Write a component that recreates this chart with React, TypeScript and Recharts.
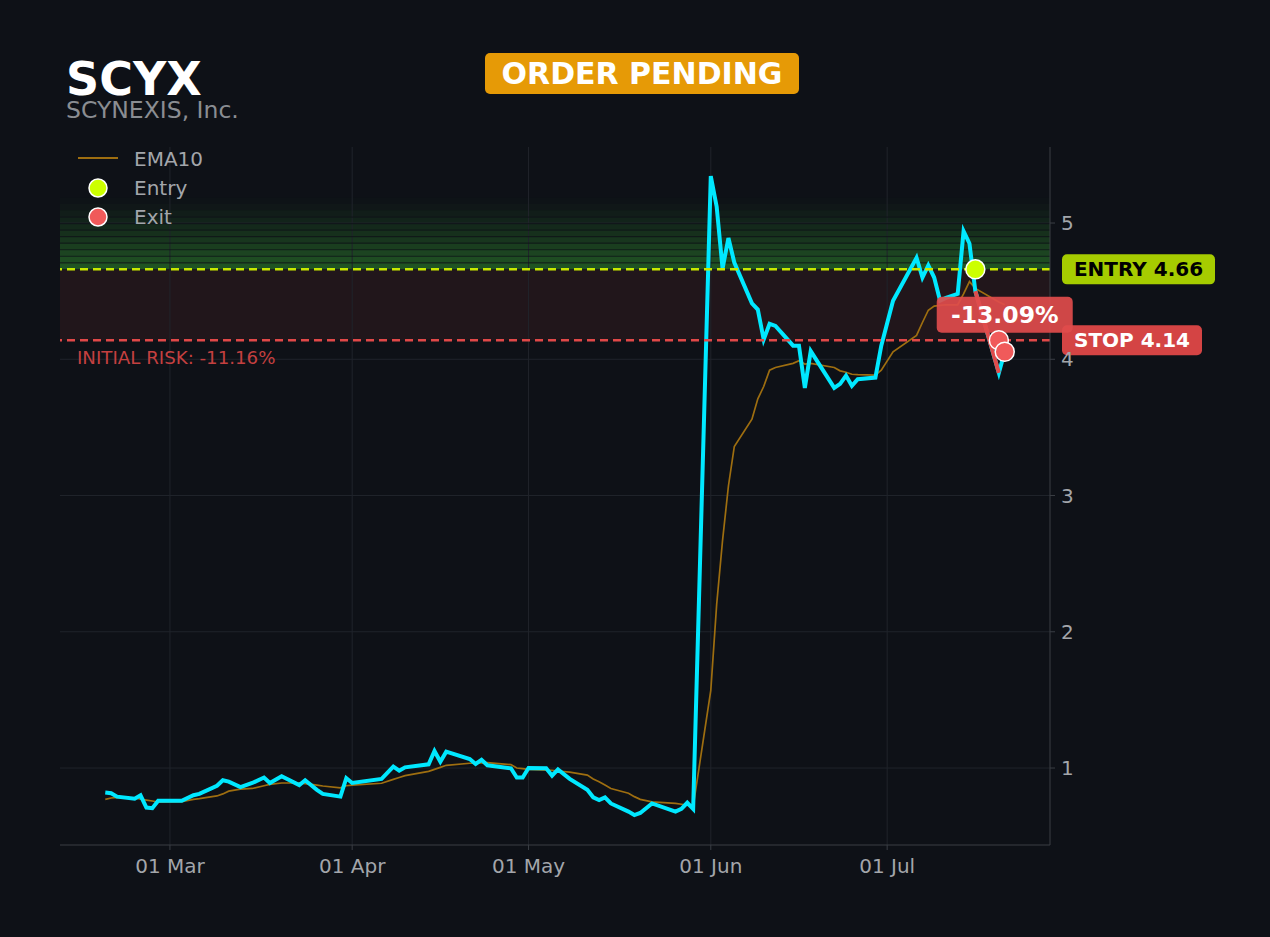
import React from 'react';
import {
  ComposedChart,
  Line,
  ReferenceArea,
  ReferenceDot,
  ReferenceLine,
  XAxis,
  YAxis,
} from 'recharts';

// Daily closes
const DATES = [
  '2023-02-18', '2023-02-19', '2023-02-20', '2023-02-23', '2023-02-24', '2023-02-25',
  '2023-02-26', '2023-02-27', '2023-03-03', '2023-03-05', '2023-03-06', '2023-03-09',
  '2023-03-10', '2023-03-11', '2023-03-13', '2023-03-15', '2023-03-17', '2023-03-18',
  '2023-03-20', '2023-03-23', '2023-03-24', '2023-03-26', '2023-03-27', '2023-03-30',
  '2023-03-31', '2023-04-01', '2023-04-06', '2023-04-08', '2023-04-09', '2023-04-10',
  '2023-04-14', '2023-04-15', '2023-04-16', '2023-04-17', '2023-04-21', '2023-04-22',
  '2023-04-23', '2023-04-24', '2023-04-28', '2023-04-29', '2023-04-30', '2023-05-01',
  '2023-05-04', '2023-05-05', '2023-05-06', '2023-05-08', '2023-05-11', '2023-05-12',
  '2023-05-13', '2023-05-14', '2023-05-15', '2023-05-18', '2023-05-19', '2023-05-20',
  '2023-05-22', '2023-05-26', '2023-05-27', '2023-05-28', '2023-05-29', '2023-06-01',
  '2023-06-02', '2023-06-03', '2023-06-04', '2023-06-05', '2023-06-08', '2023-06-09',
  '2023-06-10', '2023-06-11', '2023-06-12', '2023-06-15', '2023-06-16', '2023-06-17',
  '2023-06-18', '2023-06-22', '2023-06-23', '2023-06-24', '2023-06-25', '2023-06-26',
  '2023-06-29', '2023-06-30', '2023-07-02', '2023-07-06', '2023-07-07', '2023-07-08',
  '2023-07-09', '2023-07-10', '2023-07-11', '2023-07-13', '2023-07-14', '2023-07-15',
  '2023-07-16', '2023-07-20', '2023-07-21',
];

const CLOSE = [
  0.82, 0.815, 0.79, 0.775, 0.8, 0.71,
  0.705, 0.76, 0.76, 0.8, 0.81, 0.87,
  0.91, 0.9, 0.86, 0.89, 0.93, 0.89,
  0.94, 0.875, 0.91, 0.84, 0.81, 0.79,
  0.925, 0.89, 0.92, 1.01, 0.98, 1.005,
  1.027, 1.125, 1.046, 1.12, 1.066, 1.03,
  1.06, 1.02, 0.998, 0.93, 0.93, 1.0,
  0.998, 0.944, 0.99, 0.92, 0.84, 0.785,
  0.765, 0.785, 0.74, 0.68, 0.655, 0.67,
  0.74, 0.68, 0.7, 0.745, 0.7, 5.345,
  5.12, 4.666, 4.89, 4.71, 4.41, 4.365,
  4.145, 4.26, 4.245, 4.1, 4.1, 3.79,
  4.06, 3.79, 3.82, 3.88, 3.805, 3.854,
  3.866, 4.1, 4.43, 4.745, 4.6, 4.69,
  4.6, 4.43, 4.45, 4.48, 4.94, 4.85,
  4.5, 3.9, 4.055,
];

const EMA10 = [
  0.77, 0.78, 0.785, 0.78, 0.772, 0.765,
  0.758, 0.75, 0.753, 0.77, 0.775, 0.795,
  0.81, 0.83, 0.845, 0.85, 0.87, 0.88,
  0.89, 0.89, 0.885, 0.875, 0.868, 0.855,
  0.87, 0.875, 0.888, 0.917, 0.93, 0.944,
  0.975, 0.99, 1.005, 1.02, 1.035, 1.036,
  1.038, 1.04, 1.025, 1.0, 0.995, 0.99,
  0.985, 0.982, 0.978, 0.97, 0.948, 0.92,
  0.9, 0.875, 0.85, 0.815, 0.79, 0.77,
  0.752, 0.74, 0.734, 0.728, 0.716, 1.57,
  2.2, 2.67, 3.07, 3.36, 3.56, 3.71,
  3.8, 3.92, 3.94, 3.97, 3.99, 3.965,
  3.97, 3.94, 3.915, 3.905, 3.89, 3.887,
  3.883, 3.92, 4.055, 4.175, 4.27, 4.36,
  4.39, 4.395, 4.4, 4.4, 4.48, 4.57,
  4.52, 4.42, 4.4,
];

// Trade segment drawn in red, from entry to exit
const TRADE_DATES = ['2023-07-16', '2023-07-20'];
const TRADE_CLOSE = [4.5, 3.9];

const ENTRY_DATE = '2023-07-16';
const ENTRY_PRICE = 4.66;
const STOP_PRICE = 4.14;
const EXIT_DATES = ['2023-07-20', '2023-07-21'];
const EXIT_PRICES = [4.14, 4.055];
const TRADE_RESULT = '-13.09%';
const INITIAL_RISK = 'INITIAL RISK: -11.16%';

const TICK_DATES = ['2023-03-01', '2023-04-01', '2023-05-01', '2023-06-01', '2023-07-01'];
const TICK_LABELS = ['01 Mar', '01 Apr', '01 May', '01 Jun', '01 Jul'];
const Y_TICKS = [1, 2, 3, 4, 5];

const BG = '#0e1117';
const GRID = '#20242b';
const AXIS = '#3a3e45';
const TEXT = '#a3a6ab';
const FONT = '"DejaVu Sans", Verdana, sans-serif';
const DAY = 86400000;
const ts = (d: string) => Date.parse(d + 'T00:00:00Z');
const TICK_TS = TICK_DATES.map(ts);

const X_DOMAIN = [ts('2023-03-01') - 18.7 * DAY, ts('2023-03-01') + 149.7 * DAY];
const Y_DOMAIN = [0.435, 5.558];

const tradeByDate: Record<string, number> = {};
TRADE_DATES.forEach((d, i) => (tradeByDate[d] = TRADE_CLOSE[i]));

const data = DATES.map((d, i) => ({
  t: ts(d),
  close: CLOSE[i],
  ema: EMA10[i],
  trade: tradeByDate[d] ?? null,
}));

// stacked green bands above the entry line (fading upward)
const BAND_STEP = 0.048;
const BAND_COUNT = 11;
const BANDS = Array.from({ length: BAND_COUNT }, (_, i) => ({
  y1: ENTRY_PRICE + i * BAND_STEP,
  y2: ENTRY_PRICE + (i + 1) * BAND_STEP,
  op: 0.62 * Math.pow(1 - i / BAND_COUNT, 1.3),
}));

const SideTag = ({ viewBox, text, bg, color, width }: any) => {
  if (!viewBox) return null;
  const x = viewBox.x + viewBox.width + 12;
  const y = viewBox.y;
  return (
    <g>
      <rect x={x} y={y - 15} width={width} height={30} rx={5} fill={bg} />
      <text
        x={x + width / 2}
        y={y + 7}
        textAnchor="middle"
        fontFamily={FONT}
        fontWeight="bold"
        fontSize={20}
        fill={color}
      >
        {text}
      </text>
    </g>
  );
};

const ResultBox = ({ cx, cy }: any) => (
  <g>
    <rect x={cx - 68} y={cy - 55} width={136} height={36} rx={5} fill="#e04c4c" fillOpacity={0.92} />
    <text
      x={cx}
      y={cy - 28.5}
      textAnchor="middle"
      fontFamily={FONT}
      fontWeight="bold"
      fontSize={23.5}
      fill="#ffffff"
    >
      {TRADE_RESULT}
    </text>
  </g>
);

export default function App() {
  return (
    <div
      style={{
        position: 'absolute',
        left: 0,
        top: 0,
        width: 1270,
        height: 937,
        background: BG,
        fontFamily: FONT,
        overflow: 'hidden',
      }}
    >
      <div style={{ position: 'absolute', left: 66, top: 60, color: '#fff', fontWeight: 'bold', fontSize: 46, lineHeight: '38px' }}>
        SCYX
      </div>
      <div style={{ position: 'absolute', left: 66, top: 99, color: '#8a8d92', fontSize: 23.5, lineHeight: '22px' }}>
        SCYNEXIS, Inc.
      </div>
      <div
        style={{
          position: 'absolute',
          left: 485,
          top: 53,
          width: 314,
          height: 41,
          background: '#e69a06',
          borderRadius: 5,
          color: '#fff',
          fontWeight: 'bold',
          fontSize: 30,
          lineHeight: '41px',
          textAlign: 'center',
        }}
      >
        ORDER PENDING
      </div>

      <ComposedChart
        width={1270}
        height={937}
        data={data}
        margin={{ top: 147, right: 160, bottom: 52, left: 60 }}
        style={{ position: 'absolute', left: 0, top: 0 }}
      >
        <XAxis
          dataKey="t"
          type="number"
          scale="linear"
          domain={X_DOMAIN}
          allowDataOverflow
          ticks={TICK_TS}
          tickFormatter={(v: number) => TICK_LABELS[TICK_TS.indexOf(v)] ?? ''}
          height={40}
          tickSize={5}
          tickMargin={9}
          stroke={AXIS}
          tick={{ fill: TEXT, fontSize: 20, fontFamily: FONT }}
        />
        <YAxis
          orientation="right"
          type="number"
          domain={Y_DOMAIN}
          allowDataOverflow
          ticks={Y_TICKS}
          width={60}
          tickSize={5}
          tickMargin={6}
          stroke={AXIS}
          tick={{ fill: TEXT, fontSize: 20, fontFamily: FONT }}
        />

        {/* grid */}
        {Y_TICKS.map((v) => (
          <ReferenceLine key={'gy' + v} y={v} stroke={GRID} strokeWidth={1} />
        ))}
        {TICK_TS.map((v) => (
          <ReferenceLine key={'gx' + v} x={v} stroke={GRID} strokeWidth={1} />
        ))}

        <ReferenceArea y1={STOP_PRICE} y2={ENTRY_PRICE} fill="#d04040" fillOpacity={0.1} stroke="none" />
        {BANDS.map((b, i) => (
          <ReferenceArea key={'b' + i} y1={b.y1} y2={b.y2} fill="#2c7e2c" fillOpacity={b.op} stroke="none" />
        ))}
        {BANDS.slice(1, 9).map((b, i) => (
          <ReferenceLine key={'bl' + i} y={b.y1} stroke="#0e1117" strokeOpacity={0.7} strokeWidth={1.2} />
        ))}

        <Line
          type="linear"
          dataKey="ema"
          stroke="#9e6e10"
          strokeWidth={1.7}
          dot={false}
          isAnimationActive={false}
        />
        <Line
          type="linear"
          dataKey="close"
          stroke="#00e8ff"
          strokeWidth={4}
          dot={false}
          isAnimationActive={false}
        />
        <Line
          type="linear"
          dataKey="trade"
          stroke="#e04c4c"
          strokeWidth={4}
          dot={false}
          connectNulls={false}
          isAnimationActive={false}
        />

        <ReferenceLine
          y={ENTRY_PRICE}
          stroke="#c8e800"
          strokeWidth={2.5}
          strokeDasharray="8 5"
          label={(p: any) => (
            <SideTag viewBox={p.viewBox} text={`ENTRY ${ENTRY_PRICE.toFixed(2)}`} bg="#a6cc00" color="#000" width={153} />
          )}
        />
        <ReferenceLine
          y={STOP_PRICE}
          stroke="#e04848"
          strokeWidth={2.5}
          strokeDasharray="8 5"
          label={(p: any) =>
            p.viewBox ? (
              <text
                x={p.viewBox.x + 17}
                y={p.viewBox.y + 24}
                fontFamily={FONT}
                fontSize={18.2}
                fill="#c44040"
              >
                {INITIAL_RISK}
              </text>
            ) : null
          }
        />

        <ReferenceDot
          x={ts(EXIT_DATES[1])}
          y={EXIT_PRICES[1]}
          r={0}
          shape={(p: any) => <ResultBox cx={p.cx} cy={p.cy} />}
        />
        <ReferenceDot x={ts(ENTRY_DATE)} y={ENTRY_PRICE} r={9.5} fill="#ccff00" stroke="#ffffff" strokeWidth={1.5} />
        {EXIT_DATES.map((d, i) => (
          <ReferenceDot key={d} x={ts(d)} y={EXIT_PRICES[i]} r={9.5} fill="#f05a5a" stroke="#ffffff" strokeWidth={1.5} />
        ))}

        <ReferenceLine
          y={STOP_PRICE}
          stroke="none"
          label={(p: any) => (
            <SideTag viewBox={p.viewBox} text={`STOP ${STOP_PRICE.toFixed(2)}`} bg="#d44444" color="#fff" width={140} />
          )}
        />
      </ComposedChart>

      <svg style={{ position: 'absolute', left: 0, top: 0 }} width={260} height={240}>
        <line x1={78} y1={158} x2={118} y2={158} stroke="#9e6e10" strokeWidth={2} />
        <text x={134} y={166} fontFamily={FONT} fontSize={20} fill={TEXT}>EMA10</text>
        <circle cx={98} cy={188} r={9} fill="#ccff00" stroke="#fff" strokeWidth={1.5} />
        <text x={134} y={195} fontFamily={FONT} fontSize={20} fill={TEXT}>Entry</text>
        <circle cx={98} cy={217} r={9} fill="#f05a5a" stroke="#fff" strokeWidth={1.5} />
        <text x={134} y={224} fontFamily={FONT} fontSize={20} fill={TEXT}>Exit</text>
      </svg>
    </div>
  );
}
